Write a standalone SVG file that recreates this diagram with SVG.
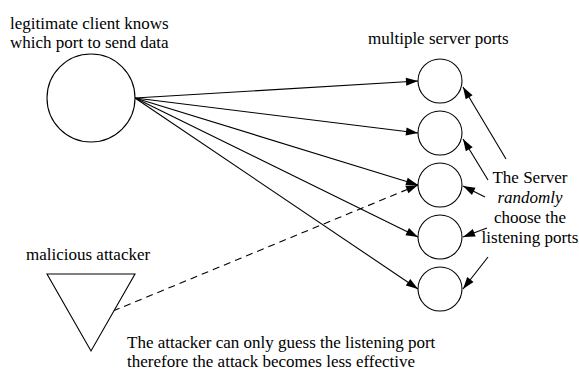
<svg xmlns="http://www.w3.org/2000/svg" width="579" height="369" viewBox="0 0 579 369">
<defs>
<marker id="ah" markerUnits="userSpaceOnUse" markerWidth="13" markerHeight="9" refX="12" refY="4" orient="auto" overflow="visible">
<path d="M0,0 L12,4 L0,8 z" fill="#000"/>
</marker>
<style>
text{font-family:"Liberation Serif","Times New Roman",serif;font-size:17px;fill:#000}
.n{fill:#fff;stroke:#000;stroke-width:1.1}
.c{stroke:#000;stroke-width:1.1;fill:none;marker-end:url(#ah)}
.d{stroke-dasharray:7,5}
.m{text-anchor:middle}
</style>
</defs>
<rect width="579" height="369" fill="#fff"/>
<g id="connectors">
<line class="c" x1="135" y1="98" x2="418" y2="81"/>
<line class="c" x1="135" y1="98" x2="418" y2="133"/>
<line class="c" x1="135" y1="98" x2="418" y2="185"/>
<line class="c" x1="135" y1="98" x2="418" y2="237"/>
<line class="c" x1="135" y1="98" x2="418" y2="289"/>
<line class="c d" x1="113" y1="311" x2="418" y2="185"/>
<line class="c" x1="506" y1="159" x2="463" y2="87"/>
<line class="c" x1="488" y1="180" x2="463" y2="139"/>
<line class="c" x1="485" y1="197" x2="463" y2="186"/>
<line class="c" x1="487" y1="228" x2="463" y2="237"/>
<line class="c" x1="488" y1="257" x2="463" y2="289"/>
</g>
<g id="client">
<circle class="n" cx="91" cy="98" r="44"/>
<text x="10" y="28.5">legitimate client knows</text>
<text x="10" y="48">which port to send data</text>
</g>
<g id="ports">
<text x="368" y="43.5">multiple server ports</text>
<circle id="port1" class="n" cx="440" cy="81" r="22"/>
<circle id="port2" class="n" cx="440" cy="133" r="22"/>
<circle id="port3" class="n" cx="440" cy="185" r="22"/>
<circle id="port4" class="n" cx="440" cy="237" r="22"/>
<circle id="port5" class="n" cx="440" cy="289" r="22"/>
</g>
<g id="server-note">
<text class="m" x="530" y="182.5">The Server</text>
<text class="m" x="530" y="202.5" font-style="italic">randomly</text>
<text class="m" x="530" y="223">choose the</text>
<text class="m" x="530" y="243">listening ports</text>
</g>
<g id="attacker">
<text x="26" y="260">malicious attacker</text>
<polygon class="n" points="47,274 135,274 91,351"/>
</g>
<g id="attacker-note">
<text x="127" y="348.3">The attacker can only guess the listening port</text>
<text x="127" y="367">therefore the attack becomes less effective</text>
</g>
</svg>
